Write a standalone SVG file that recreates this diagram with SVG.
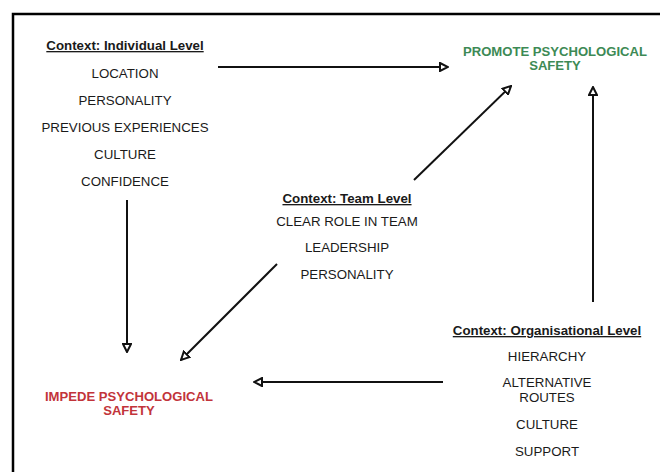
<svg xmlns="http://www.w3.org/2000/svg" width="660" height="472" viewBox="0 0 660 472">
<defs>
<style>
text{font-family:"Liberation Sans",Arial,sans-serif;font-size:13.3px;fill:#1a1a1a;text-anchor:middle}
.h{font-weight:bold;text-decoration:underline}
.g{font-weight:bold;fill:#3d8a55;font-size:13.1px}
.r{font-weight:bold;fill:#c2343a;font-size:13.1px}
.c{stroke:#111;stroke-width:2;fill:none;marker-end:url(#ah)}
</style>
<marker id="ah" viewBox="0 0 10 10" refX="9" refY="5" markerWidth="5" markerHeight="5" orient="auto" markerUnits="strokeWidth">
<path d="M1,1 L9,5 L1,9 Z" fill="#fff" stroke="#111" stroke-width="2"/>
</marker>
</defs>
<rect x="0" y="0" width="660" height="472" fill="#fff"/>
<path d="M13,480 V14 H662" fill="none" stroke="#000" stroke-width="2.5"/>
<g id="individual">
<text class="h" x="125" y="50">Context: Individual Level</text>
<text x="125" y="78">LOCATION</text>
<text x="125" y="105">PERSONALITY</text>
<text x="125" y="132">PREVIOUS EXPERIENCES</text>
<text x="125" y="159">CULTURE</text>
<text x="125" y="186">CONFIDENCE</text>
</g>
<g id="promote">
<text class="g" x="555" y="56">PROMOTE PSYCHOLOGICAL</text>
<text class="g" x="555" y="70">SAFETY</text>
</g>
<g id="team">
<text class="h" x="347" y="203">Context: Team Level</text>
<text x="347" y="226">CLEAR ROLE IN TEAM</text>
<text x="347" y="252">LEADERSHIP</text>
<text x="347" y="279">PERSONALITY</text>
</g>
<g id="impede">
<text class="r" x="129" y="401">IMPEDE PSYCHOLOGICAL</text>
<text class="r" x="129" y="415">SAFETY</text>
</g>
<g id="organisational">
<text class="h" x="547" y="335">Context: Organisational Level</text>
<text x="547" y="361">HIERARCHY</text>
<text x="547" y="387">ALTERNATIVE</text>
<text x="547" y="402">ROUTES</text>
<text x="547" y="429">CULTURE</text>
<text x="547" y="456">SUPPORT</text>
</g>
<g id="connectors">
<path class="c" d="M218,67 H448"/>
<path class="c" d="M414,180 L511,86"/>
<path class="c" d="M593,302 V87"/>
<path class="c" d="M127,200 V352"/>
<path class="c" d="M277,264 L181,360"/>
<path class="c" d="M443,382 H254"/>
</g>
</svg>
